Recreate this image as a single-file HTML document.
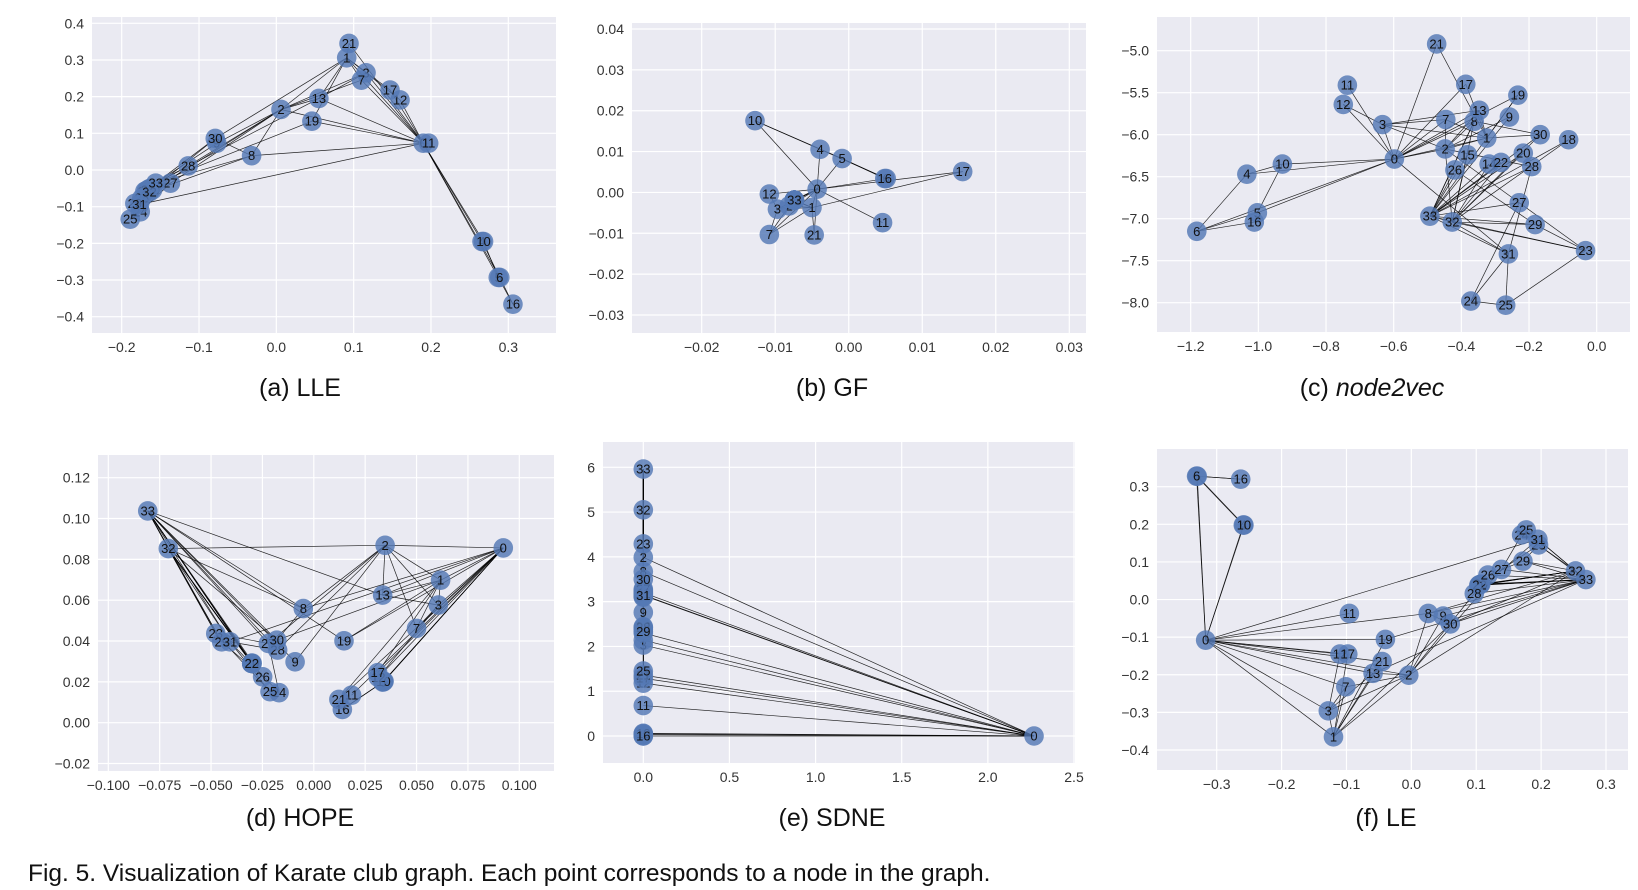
<!DOCTYPE html>
<html><head><meta charset="utf-8">
<style>
html,body{margin:0;padding:0;background:#fff;}
svg{display:block;font-family:"Liberation Sans",sans-serif;}
</style></head>
<body>
<svg id="fig" width="1638" height="890" viewBox="0 0 1638 890" xmlns="http://www.w3.org/2000/svg">
<text x="28" y="881" font-size="24.5" fill="#111">Fig. 5. Visualization of Karate club graph. Each point corresponds to a node in the graph.</text>
</svg>
<script>
// Karate club edge list
const EDGES = [[0,1],[0,2],[0,3],[0,4],[0,5],[0,6],[0,7],[0,8],[0,10],[0,11],[0,12],[0,13],[0,17],[0,19],[0,21],[0,31],[1,2],[1,3],[1,7],[1,13],[1,17],[1,19],[1,21],[1,30],[2,3],[2,7],[2,8],[2,9],[2,13],[2,27],[2,28],[2,32],[3,7],[3,12],[3,13],[4,6],[4,10],[5,6],[5,10],[5,16],[6,16],[8,30],[8,32],[8,33],[9,33],[13,33],[14,32],[14,33],[15,32],[15,33],[18,32],[18,33],[19,33],[20,32],[20,33],[22,32],[22,33],[23,25],[23,27],[23,29],[23,32],[23,33],[24,25],[24,27],[24,31],[25,31],[26,29],[26,33],[27,33],[28,31],[28,33],[29,32],[29,33],[30,32],[30,33],[31,32],[31,33],[32,33]];

// (a) LLE
const lleX = [0.190,0.091,0.006,0.116,0.266,0.287,0.289,0.110,-0.032,-0.077,0.268,0.197,0.160,0.055,-0.163,-0.165,0.306,0.147,-0.168,0.046,-0.160,0.094,-0.170,-0.166,-0.176,-0.189,-0.174,-0.137,-0.114,-0.183,-0.079,-0.177,-0.164,-0.156];
const lleY = [0.073,0.306,0.165,0.265,-0.195,-0.293,-0.293,0.245,0.039,0.073,-0.195,0.073,0.191,0.195,-0.050,-0.052,-0.366,0.218,-0.056,0.133,-0.054,0.345,-0.058,-0.054,-0.114,-0.134,-0.077,-0.036,0.011,-0.091,0.086,-0.094,-0.060,-0.036];
const lleXTicks = [-0.2,-0.1,0.0,0.1,0.2,0.3];
const lleXLabels = ["−0.2","−0.1","0.0","0.1","0.2","0.3"];
const lleYTicks = [0.4,0.3,0.2,0.1,0.0,-0.1,-0.2,-0.3,-0.4];
const lleYLabels = ["0.4","0.3","0.2","0.1","0.0","−0.1","−0.2","−0.3","−0.4"];

// (b) GF
const gfX = [-0.0043,-0.0050,-0.0081,-0.0097,-0.0039,-0.0009,0.0051,-0.0108,-0.0074,-0.0074,-0.01275,0.0046,-0.0108,-0.0074,-0.0074,-0.0074,0.0049,0.0155,-0.0074,-0.0074,-0.0074,-0.0047,-0.0074,-0.0074,-0.0074,-0.0074,-0.0074,-0.0074,-0.0074,-0.0074,-0.0074,-0.0074,-0.0074,-0.0074];
const gfY = [0.0008,-0.0037,-0.0033,-0.0041,0.01055,0.0083,0.0034,-0.0103,-0.0019,-0.0019,0.01755,-0.0074,-0.0004,-0.0019,-0.0019,-0.0019,0.0034,0.0051,-0.0019,-0.0019,-0.0019,-0.0104,-0.0019,-0.0019,-0.0019,-0.0019,-0.0019,-0.0019,-0.0019,-0.0019,-0.0019,-0.0019,-0.0019,-0.0019];
const gfXTicks = [-0.02,-0.01,0.0,0.01,0.02,0.03];
const gfXLabels = ["−0.02","−0.01","0.00","0.01","0.02","0.03"];
const gfYTicks = [0.04,0.03,0.02,0.01,0.0,-0.01,-0.02,-0.03];
const gfYLabels = ["0.04","0.03","0.02","0.01","0.00","−0.01","−0.02","−0.03"];

// (c) node2vec
const n2vX = [-0.598,-0.325,-0.448,-0.633,-1.034,-1.003,-1.182,-0.446,-0.362,-0.258,-0.929,-0.737,-0.749,-0.347,-0.318,-0.382,-1.012,-0.387,-0.083,-0.233,-0.217,-0.473,-0.283,-0.033,-0.372,-0.269,-0.419,-0.229,-0.192,-0.182,-0.167,-0.261,-0.427,-0.493];
const n2vY = [-6.29,-6.04,-6.17,-5.88,-6.47,-6.93,-7.15,-5.82,-5.84,-5.79,-6.35,-5.41,-5.64,-5.71,-6.35,-6.24,-7.04,-5.40,-6.06,-5.53,-6.22,-4.92,-6.33,-7.38,-7.98,-8.03,-6.42,-6.81,-6.38,-7.07,-6.00,-7.42,-7.04,-6.97];
const n2vXTicks = [-1.2,-1.0,-0.8,-0.6,-0.4,-0.2,0.0];
const n2vXLabels = ["−1.2","−1.0","−0.8","−0.6","−0.4","−0.2","0.0"];
const n2vYTicks = [-5.0,-5.5,-6.0,-6.5,-7.0,-7.5,-8.0];
const n2vYLabels = ["−5.0","−5.5","−6.0","−6.5","−7.0","−7.5","−8.0"];

// (d) HOPE
const hopeX = [0.0922,0.0617,0.0347,0.0606,0.0339,0.0342,0.0336,0.0500,-0.0051,-0.0091,0.0339,0.0184,0.0314,0.0335,-0.0302,-0.0302,0.0139,0.0311,-0.0302,0.0147,-0.0300,0.0122,-0.0302,-0.0477,-0.0169,-0.0213,-0.0249,-0.0221,-0.0176,-0.0448,-0.0180,-0.0408,-0.0708,-0.0808];
const hopeY = [0.0856,0.0698,0.0869,0.0576,0.0201,0.0203,0.0199,0.0462,0.0559,0.0298,0.0201,0.0135,0.0222,0.0625,0.0290,0.0290,0.0065,0.0245,0.0290,0.0401,0.0292,0.0114,0.0290,0.0437,0.0147,0.0152,0.0225,0.0388,0.0356,0.0396,0.0404,0.0396,0.0853,0.1037];
const hopeXTicks = [-0.1,-0.075,-0.05,-0.025,0.0,0.025,0.05,0.075,0.1];
const hopeXLabels = ["−0.100","−0.075","−0.050","−0.025","0.000","0.025","0.050","0.075","0.100"];
const hopeYTicks = [0.12,0.10,0.08,0.06,0.04,0.02,0.0,-0.02];
const hopeYLabels = ["0.12","0.10","0.08","0.06","0.04","0.02","0.00","−0.02"];

// (e) SDNE
const sdneX = [2.268,0,0,0,0,0,0,0,0,0,0,0,0,0,0,0,0,0,0,0,0,0,0,0,0,0,0,0,0,0,0,0,0,0];
const sdneY = [0,3.15,3.99,2.03,0.05,0.0,0.03,2.14,3.67,2.76,0.06,0.68,1.18,3.2,3.1,3.22,0.0,1.29,3.12,2.3,3.25,1.36,3.18,4.29,2.38,1.45,2.44,3.28,2.42,2.33,3.5,3.14,5.05,5.96];
const sdneXTicks = [0.0,0.5,1.0,1.5,2.0,2.5];
const sdneXLabels = ["0.0","0.5","1.0","1.5","2.0","2.5"];
const sdneYTicks = [6,5,4,3,2,1,0];
const sdneYLabels = ["6","5","4","3","2","1","0"];

// (f) LE
const leX = [-0.317,-0.120,-0.004,-0.128,-0.259,-0.330,-0.331,-0.101,0.026,0.049,-0.258,-0.0955,-0.110,-0.059,0.105,0.106,-0.263,-0.098,0.104,-0.040,0.107,-0.045,0.105,0.196,0.170,0.177,0.118,0.139,0.097,0.172,0.060,0.195,0.253,0.269];
const leY = [-0.108,-0.365,-0.201,-0.296,0.198,0.328,0.328,-0.232,-0.037,-0.044,0.198,-0.037,-0.145,-0.196,0.039,0.040,0.320,-0.145,0.038,-0.106,0.041,-0.165,0.039,0.145,0.172,0.185,0.065,0.080,0.016,0.102,-0.065,0.160,0.076,0.053];
const leXTicks = [-0.3,-0.2,-0.1,0.0,0.1,0.2,0.3];
const leXLabels = ["−0.3","−0.2","−0.1","0.0","0.1","0.2","0.3"];
const leYTicks = [0.3,0.2,0.1,0.0,-0.1,-0.2,-0.3,-0.4];
const leYLabels = ["0.3","0.2","0.1","0.0","−0.1","−0.2","−0.3","−0.4"];

const NS = "http://www.w3.org/2000/svg";
const svg = document.getElementById('fig');
function mk(tag, attrs, parent){
  const e = document.createElementNS(NS, tag);
  for (const k in attrs) e.setAttribute(k, attrs[k]);
  (parent||svg).appendChild(e);
  return e;
}
function scale(v1,p1,v2,p2){ return v => p1 + (v - v1) * (p2 - p1) / (v2 - v1); }

function panel(cfg){
  const g = mk('g', {});
  
  
  const [l,t,r,b] = cfg.box;
  const sx = scale(...cfg.xr), sy = scale(...cfg.yr);
  const bg = mk('rect', {x:l, y:t, width:r-l, height:b-t, fill:'#eaeaf2'}, g);
  
  
  cfg.xt.forEach((v,i) => {
    const x = sx(v);
    const gl = mk('line', {x1:x, x2:x, y1:t, y2:b, stroke:'#fff', 'stroke-width':1.2}, g);
    
    
    const tx = mk('text', {x:x, y:b+19, 'font-size':14, fill:'#333', 'text-anchor':'middle'}, g);
    
    
    tx.textContent = cfg.xl[i];
  });
  cfg.yt.forEach((v,i) => {
    const y = sy(v);
    const gl = mk('line', {x1:l, x2:r, y1:y, y2:y, stroke:'#fff', 'stroke-width':1.2}, g);
    
    
    const tx = mk('text', {x:l-8, y:y+5, 'font-size':14, fill:'#333', 'text-anchor':'end'}, g);
    
    
    tx.textContent = cfg.yl[i];
  });
  EDGES.forEach(([a,c]) => {
    const e = mk('line', {x1:sx(cfg.X[a]), y1:sy(cfg.Y[a]), x2:sx(cfg.X[c]), y2:sy(cfg.Y[c]), stroke:'#000', 'stroke-width':0.7, 'stroke-opacity':0.85}, g);
    
    
  });
  cfg.X.forEach((xv,i) => {
    const cx = sx(xv), cy = sy(cfg.Y[i]);
    const c = mk('circle', {cx:cx, cy:cy, r:9.8, fill:'#5479b4', 'fill-opacity':0.82}, g);
    
    
    const tx = mk('text', {x:cx, y:cy+4.5, 'font-size':13, fill:'#111', 'text-anchor':'middle'}, g);
    
    
    tx.textContent = String(i);
  });
  const cap = mk('text', {x:cfg.cap[0], y:cfg.cap[1], 'font-size':25, fill:'#111', 'text-anchor':'middle'}, svg);
  
  
  const p1 = mk('tspan', {}, cap); p1.textContent = cfg.capPre;
  const p2 = mk('tspan', cfg.italic ? {'font-style':'italic'} : {}, cap); p2.textContent = cfg.capName;
}

panel({name:'lle', box:[92,17,556,333], xr:[-0.2,121.7,0.3,508.3], yr:[0.4,23.3,-0.4,316.7], X:lleX, Y:lleY, xt:lleXTicks, xl:lleXLabels, yt:lleYTicks, yl:lleYLabels, cap:[300,396], capPre:'(a) ', capName:'LLE'});
panel({name:'gf', box:[632,23,1086,333], xr:[-0.02,701.7,0.03,1069.3], yr:[0.04,29,-0.03,315], X:gfX, Y:gfY, xt:gfXTicks, xl:gfXLabels, yt:gfYTicks, yl:gfYLabels, cap:[832,396], capPre:'(b) ', capName:'GF'});
panel({name:'node2vec', box:[1157,17,1630,332], xr:[-1.2,1190.7,0.0,1596.7], yr:[-5,50.7,-8,302.7], X:n2vX, Y:n2vY, xt:n2vXTicks, xl:n2vXLabels, yt:n2vYTicks, yl:n2vYLabels, cap:[1372,396], capPre:'(c) ', capName:'node2vec', italic:true});
panel({name:'hope', box:[98,455,554,771], xr:[-0.1,108.3,0.1,519.3], yr:[0.12,477.7,0,722.7], X:hopeX, Y:hopeY, xt:hopeXTicks, xl:hopeXLabels, yt:hopeYTicks, yl:hopeYLabels, cap:[300,826], capPre:'(d) ', capName:'HOPE'});
panel({name:'sdne', box:[603,442,1075,763], xr:[0,643.3,2.5,1074], yr:[6,467.3,0,736], X:sdneX, Y:sdneY, xt:sdneXTicks, xl:sdneXLabels, yt:sdneYTicks, yl:sdneYLabels, cap:[832,826], capPre:'(e) ', capName:'SDNE'});
panel({name:'le', box:[1157,449,1628,770], xr:[-0.3,1216.7,0.3,1606], yr:[0.3,486.7,-0.4,750], X:leX, Y:leY, xt:leXTicks, xl:leXLabels, yt:leYTicks, yl:leYLabels, cap:[1386,826], capPre:'(f) ', capName:'LE'});
</script>
</body></html>
